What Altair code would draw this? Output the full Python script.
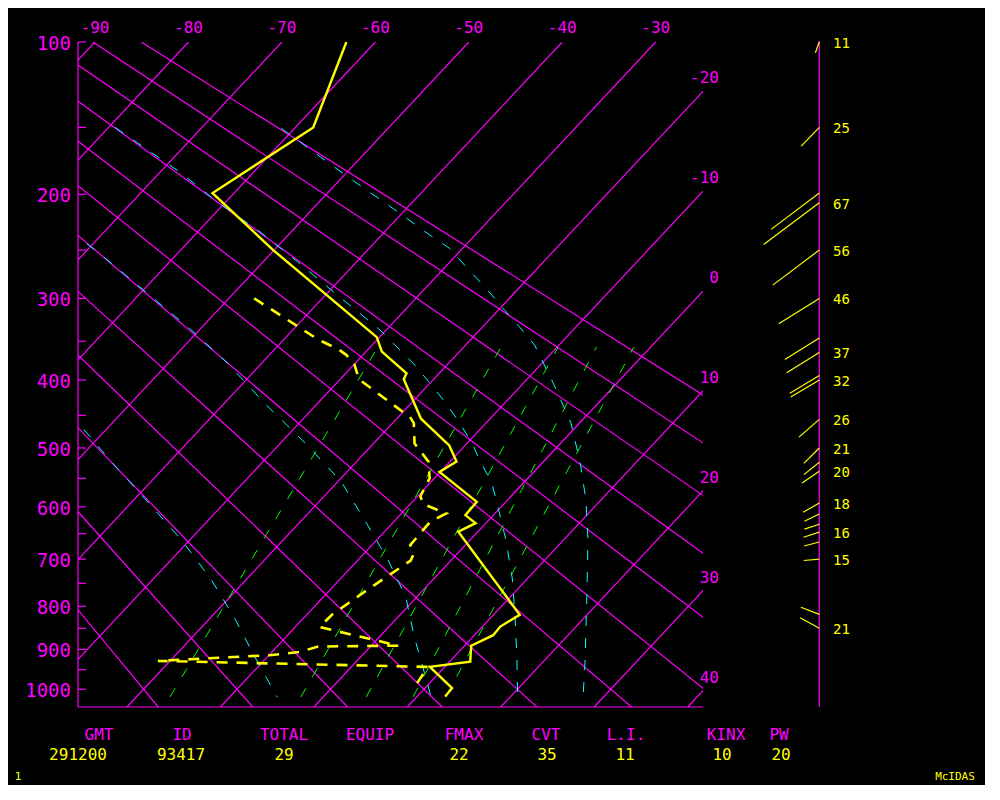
import altair as alt
import numpy as np
import pandas as pd

# ---------------- chart geometry (scale definitions) ----------------
KAPPA = 0.286
P_TOP, P_BOT = 100, 1047
X_LEFT, X_RIGHT = -91.82, -24.94
SKEW = 18.63
W, H = 625, 665

MAG, YEL, CYA, GRN = "#ff00ff", "#ffff00", "#00ffff", "#00ff00"
FONT = "DejaVu Sans Mono"

# ---------------- reference lines ----------------
ISOTHERMS = list(range(-90, 41, 10))
DRY_ADIABATS = list(range(-20, 91, 10))          # potential temperature, deg C
TOP_LABEL_T = [-90, -80, -70, -60, -50, -40, -30]
RIGHT_LABEL_T = [-20, -10, 0, 10, 20, 30, 40]
P_LABELS = [100, 200, 300, 400, 500, 600, 700, 800, 900, 1000]
P_TICKS = list(range(100, 1001, 50))

# mixing-ratio lines (g/kg), temperatures read at bottom and top ends
MIX_W = [1, 3, 5, 7, 9]
MIX_P_BOTTOM = 1020
MIX_P_TOP = 357
MIX_T_BOTTOM = [-16.4, -2.4, 4.6, 9.6, 13.1]
MIX_T_TOP = [-29.2, -16.0, -9.9, -5.8, -1.8]

# moist adiabats (cyan)
MA_A_P = [150.0, 182.3, 207.8, 232.9, 261.6, 296.5, 334.5, 377.8, 404.4, 433.8, 461.7, 492.4,
          524.6, 556.4, 587.8, 660.0, 738.6, 825.6, 920.4, 1020.1]
MA_A_T = [-79.3, -67.9, -60.5, -53.3, -46.3, -38.7, -31.0, -23.8, -20.0, -16.1, -12.8, -9.5,
          -6.5, -3.5, -1.2, 3.7, 8.3, 12.6, 16.8, 20.8]
MA_B_P = [150.7, 187.1, 210.1, 235.9, 248.3, 267.0, 287.9, 309.8, 333.0, 354.8, 407.2, 461.7,
          524.6, 587.8, 661.9, 786.3, 925.2, 1020.1]
MA_B_T = [-61.4, -49.1, -42.0, -34.8, -31.4, -27.7, -23.7, -19.9, -16.0, -12.6, -6.5, -0.9,
          4.1, 8.4, 12.6, 18.5, 24.3, 27.8]
MA_C_P = [231.0, 261.6, 296.5, 334.5, 378.2, 433.8, 491.9, 555.9, 627.4, 701.4, 779.1, 869.6,
          967.3, 1019.4]
MA_C_T = [-73.9, -66.4, -58.8, -51.2, -43.6, -35.5, -27.4, -19.6, -13.0, -6.8, -1.2, 3.7,
          8.9, 11.5]
MA_D_P = [446.3, 522.4, 584.8, 661.9, 742.7, 826.3, 918.7, 1020.9]
MA_D_T = [-55.6, -46.2, -39.0, -30.9, -23.7, -17.4, -11.3, -4.9]

# ---------------- sounding ----------------
TEMP_P = [100, 150, 199, 250, 345, 363, 391, 399, 455, 496, 522, 539, 591, 615, 630, 646,
          819, 846, 866, 891, 930, 943, 997, 1019]
TEMP_T = [-63.1, -58.1, -62.3, -50.1, -30.3, -28.3, -23.5, -23.2, -17.4, -11.7, -9.3, -10.1,
          -3.1, -3.0, -1.1, -2.1, 12.8, 11.9, 12.0, 10.7, 12.2, 8.4, 12.9, 13.0]
DEW_P = [300, 348, 360, 367, 379, 399, 441, 452, 462, 493, 522, 550, 581, 595, 612, 627, 672,
         691, 703, 760, 819, 847, 891, 893, 906, 914, 928, 943, 997]
DEW_T = [-47.3, -36.3, -33.2, -31.8, -30.0, -28.0, -20.7, -18.8, -17.7, -15.6, -12.3, -10.5,
         -9.7, -8.6, -5.2, -6.1, -5.9, -4.6, -4.3, -5.9, -7.3, -7.4, 2.9, -5.6, -7.0, -9.9,
         -21.3, 8.2, 8.8]

# ---------------- winds ----------------
WIND_P = [100, 150, 199, 207, 250, 300, 346, 364, 394, 400, 456, 500, 523, 538, 593, 613,
          632, 647, 666, 700, 818, 850]
WIND_DIR = [200, 224, 233, 233, 233, 238, 238, 238, 239, 239, 229, 225, 231, 236, 240, 244,
            252, 252, 255, 265, 291, 299]
WIND_SPD = [11, 25, 58, 67, 56, 46, 39, 37, 33, 32, 26, 21, 19, 20, 18, 16, 15, 16, 15, 15, 19, 21]
WIND_LABELLED = [1, 1, 0, 1, 1, 1, 0, 1, 0, 1, 1, 1, 0, 1, 1, 0, 0, 1, 0, 1, 0, 1]

# ---------------- table ----------------
HEAD = ["GMT", "ID", "TOTAL", "EQUIP", "FMAX", "CVT", "L.I.", "KINX", "PW"]
VALS = ["291200", "93417", "29", "", "22", "35", "11", "10", "20"]
HEAD_X = [21, 104, 206, 292, 386, 468, 548, 648, 701]
VAL_X = [0, 103, 206, 292, 381, 469, 547, 644, 703]


def skewx(T, p):
    return float(T) - SKEW * (float(p) ** KAPPA - P_TOP ** KAPPA)


def lines_df(groups):
    rows = []
    for gid, Ts, ps in groups:
        for k, (t, p) in enumerate(zip(Ts, ps)):
            rows.append({"g": str(gid), "k": k, "T": t, "p": p, "X": skewx(t, p)})
    return pd.DataFrame(rows)


xs = alt.Scale(domain=[X_LEFT, X_RIGHT], nice=False, zero=False)
ys = alt.Scale(type="pow", exponent=KAPPA, domain=[P_TOP, P_BOT], reverse=True,
               nice=False, zero=False)


def XE():
    return alt.X("X:Q", scale=xs, axis=None)


def YE():
    return alt.Y("p:Q", scale=ys, axis=None)


layers = []

# isotherms
iso = lines_df([(t, [t, t], [P_TOP, P_BOT]) for t in ISOTHERMS])
layers.append(alt.Chart(iso).mark_line(color=MAG, strokeWidth=1.2, clip=True).encode(
    x=XE(), y=YE(), detail="g:N", order="k:Q"))

# dry adiabats
def theta_T(th, p):
    return (th + 273.15) * (p / 1000.0) ** 0.2857 - 273.15

dry = lines_df([(th, [theta_T(th, P_TOP), theta_T(th, P_BOT)], [P_TOP, P_BOT])
                for th in DRY_ADIABATS])
layers.append(alt.Chart(dry).mark_line(color=MAG, strokeWidth=1.2, clip=True).encode(
    x=XE(), y=YE(), detail="g:N", order="k:Q"))

# mixing ratio lines
mix = lines_df([(w, [tb, tt], [MIX_P_BOTTOM, MIX_P_TOP])
                for w, tb, tt in zip(MIX_W, MIX_T_BOTTOM, MIX_T_TOP)])
layers.append(alt.Chart(mix).mark_line(color=GRN, strokeWidth=1, strokeDash=[10, 13],
                                       clip=True).encode(
    x=XE(), y=YE(), detail="g:N", order="k:Q"))

# moist adiabats
moist = lines_df([("A", MA_A_T, MA_A_P), ("B", MA_B_T, MA_B_P),
                  ("C", MA_C_T, MA_C_P), ("D", MA_D_T, MA_D_P)])
layers.append(alt.Chart(moist).mark_line(color=CYA, strokeWidth=1, strokeDash=[10, 12],
                                         clip=True).encode(
    x=XE(), y=YE(), detail="g:N", order="k:Q"))

# frame: left axis, bottom line, ticks
one = pd.DataFrame({"a": [0]})
layers.append(alt.Chart(one).mark_rule(color=MAG, strokeWidth=1.2).encode(
    x=alt.value(0), y=alt.value(0), y2=alt.value(H)))
layers.append(alt.Chart(one).mark_rule(color=MAG, strokeWidth=1.2).encode(
    x=alt.value(0), x2=alt.value(W), y=alt.value(H)))
ticks = pd.DataFrame({"p": P_TICKS})
layers.append(alt.Chart(ticks).mark_rule(color=MAG, strokeWidth=1.2).encode(
    x=alt.value(0), x2=alt.value(8), y=YE()))

# pressure labels
plab = pd.DataFrame({"p": P_LABELS, "lab": [str(v) for v in P_LABELS]})
layers.append(alt.Chart(plab).mark_text(color=MAG, font=FONT, fontSize=19, align="right",
                                        baseline="middle", dy=2).encode(
    x=alt.value(-7), y=YE(), text="lab:N"))

# top temperature labels
tl = pd.DataFrame({"T": TOP_LABEL_T, "p": [P_TOP] * len(TOP_LABEL_T)})
tl["X"] = [skewx(t, P_TOP) for t in TOP_LABEL_T]
tl["lab"] = [str(t) for t in TOP_LABEL_T]
layers.append(alt.Chart(tl).mark_text(color=MAG, font=FONT, fontSize=16, align="center",
                                      baseline="middle", dy=-14).encode(
    x=XE(), y=YE(), text="lab:N"))

# right temperature labels (where the isotherm meets the right edge)
rl = pd.DataFrame({"T": RIGHT_LABEL_T})
rl["p"] = [(P_TOP ** KAPPA + (t - X_RIGHT) / SKEW) ** (1 / KAPPA) for t in RIGHT_LABEL_T]
rl["lab"] = [str(t) for t in RIGHT_LABEL_T]
layers.append(alt.Chart(rl).mark_text(color=MAG, font=FONT, fontSize=16, align="right",
                                      baseline="middle", dy=-13).encode(
    x=alt.value(641), y=YE(), text="lab:N"))

# temperature & dewpoint
temp = lines_df([("T", TEMP_T, TEMP_P)])
dew = lines_df([("D", DEW_T, DEW_P)])
layers.append(alt.Chart(dew).mark_line(color=YEL, strokeWidth=2.6, strokeDash=[11, 9],
                                       clip=True).encode(
    x=XE(), y=YE(), order="k:Q"))
layers.append(alt.Chart(temp).mark_line(color=YEL, strokeWidth=2.4, clip=True).encode(
    x=XE(), y=YE(), order="k:Q"))

# wind column
WX = 741.3
layers.append(alt.Chart(one).mark_rule(color=MAG, strokeWidth=1.2).encode(
    x=alt.value(WX), y=alt.value(-1), y2=alt.value(H)))
wind = pd.DataFrame({"p": WIND_P, "dir": WIND_DIR, "spd": WIND_SPD, "lbl": WIND_LABELLED})
wind["sz"] = (2 * 1.04 * wind["spd"]) ** 2
layers.append(alt.Chart(wind).mark_point(shape="M0,0L0,-1", filled=False, color=YEL,
                                         strokeWidth=1.2, opacity=1).encode(
    x=alt.value(WX), y=YE(),
    size=alt.Size("sz:Q", scale=None, legend=None),
    angle=alt.Angle("dir:Q", scale=None)))
wl = wind[wind["lbl"] == 1].copy()
wl["lab"] = wl["spd"].astype(str)
layers.append(alt.Chart(wl).mark_text(color=YEL, font=FONT, fontSize=14, align="left",
                                      baseline="middle", dy=2).encode(
    x=alt.value(755), y=YE(), text="lab:N"))

# table text
for lab, px in zip(HEAD, HEAD_X):
    layers.append(alt.Chart(one).mark_text(text=lab, color=MAG, font=FONT, fontSize=16,
                                           align="center", baseline="middle").encode(
        x=alt.value(px), y=alt.value(693)))
for lab, px in zip(VALS, VAL_X):
    if lab:
        layers.append(alt.Chart(one).mark_text(text=lab, color=YEL, font=FONT, fontSize=16,
                                               align="center", baseline="middle").encode(
            x=alt.value(px), y=alt.value(713)))
layers.append(alt.Chart(one).mark_text(text="1", color=YEL, font=FONT, fontSize=11,
                                       align="center", baseline="middle").encode(
    x=alt.value(-60), y=alt.value(735)))
layers.append(alt.Chart(one).mark_text(text="McIDAS", color=YEL, font=FONT, fontSize=11,
                                       align="center", baseline="middle").encode(
    x=alt.value(877), y=alt.value(735)))

chart = alt.layer(*layers).properties(
    width=W, height=H,
    padding={"left": 70, "top": 34, "right": 282, "bottom": 78},
    autosize=alt.AutoSizeParams(type="none"),
).configure(background="#000000").configure_view(strokeOpacity=0)

chart.save("out.html", embed_options={"renderer": "svg", "actions": False})
